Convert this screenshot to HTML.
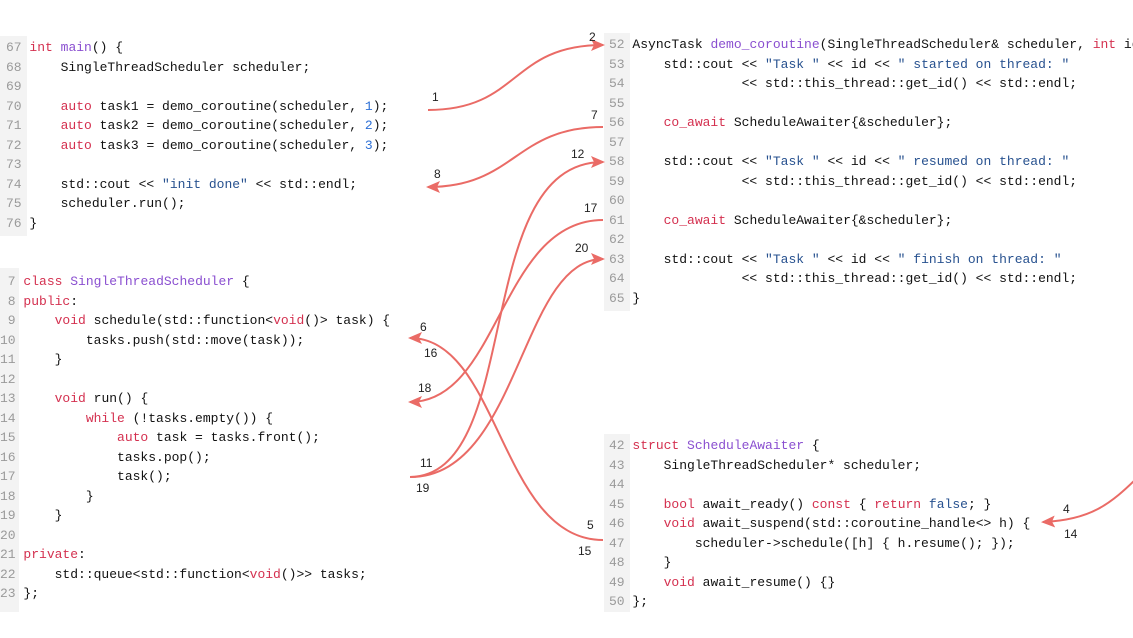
<!DOCTYPE html>
<html><head><meta charset="utf-8"><style>
body{margin:0;width:1133px;height:638px;background:#fff;position:relative;overflow:hidden;font-family:"Liberation Mono",monospace}
.p{position:absolute;background:#fff}
.g{position:absolute;top:0;bottom:0;left:0;background:#f3f3f3}
pre{position:absolute;margin:0;font-family:"Liberation Mono",monospace;font-size:13px;line-height:19.5px;color:#111;white-space:pre}
.n{color:#9a9a9a}
.k{color:#d4304f}
.f{color:#8a4fd0}
.b{color:#2c6fd6}
.s{color:#27518f}
.lbl{position:absolute;font-family:"Liberation Sans",sans-serif;font-size:12px;color:#222}
</style></head><body>
<div class="p" style="left:0;top:36px;width:425px;height:200px"><div class="g" style="width:27px"></div></div>
<div class="p" style="left:0;top:268px;width:408px;height:344px"><div class="g" style="width:19px"></div></div>
<div class="p" style="left:604px;top:33px;width:529px;height:278px"><div class="g" style="width:26px"></div></div>
<div class="p" style="left:604px;top:434px;width:440px;height:178px"><div class="g" style="width:26px"></div></div>

<pre style="left:6px;top:38px"><span class="n">67</span> <span class="k">int</span> <span class="f">main</span>() {
<span class="n">68</span>     SingleThreadScheduler scheduler;
<span class="n">69</span>
<span class="n">70</span>     <span class="k">auto</span> task1 = demo_coroutine(scheduler, <span class="b">1</span>);
<span class="n">71</span>     <span class="k">auto</span> task2 = demo_coroutine(scheduler, <span class="b">2</span>);
<span class="n">72</span>     <span class="k">auto</span> task3 = demo_coroutine(scheduler, <span class="b">3</span>);
<span class="n">73</span>
<span class="n">74</span>     std::cout &lt;&lt; <span class="s">"init done"</span> &lt;&lt; std::endl;
<span class="n">75</span>     scheduler.run();
<span class="n">76</span> }</pre>

<pre style="left:0px;top:272px"><span class="n"> 7</span> <span class="k">class</span> <span class="f">SingleThreadScheduler</span> {
<span class="n"> 8</span> <span class="k">public</span>:
<span class="n"> 9</span>     <span class="k">void</span> schedule(std::function&lt;<span class="k">void</span>()&gt; task) {
<span class="n">10</span>         tasks.push(std::move(task));
<span class="n">11</span>     }
<span class="n">12</span>
<span class="n">13</span>     <span class="k">void</span> run() {
<span class="n">14</span>         <span class="k">while</span> (!tasks.empty()) {
<span class="n">15</span>             <span class="k">auto</span> task = tasks.front();
<span class="n">16</span>             tasks.pop();
<span class="n">17</span>             task();
<span class="n">18</span>         }
<span class="n">19</span>     }
<span class="n">20</span>
<span class="n">21</span> <span class="k">private</span>:
<span class="n">22</span>     std::queue&lt;std::function&lt;<span class="k">void</span>()&gt;&gt; tasks;
<span class="n">23</span> };</pre>

<pre style="left:609px;top:35px"><span class="n">52</span> AsyncTask <span class="f">demo_coroutine</span>(SingleThreadScheduler&amp; scheduler, <span class="k">int</span> id
<span class="n">53</span>     std::cout &lt;&lt; <span class="s">"Task "</span> &lt;&lt; id &lt;&lt; <span class="s">" started on thread: "</span>
<span class="n">54</span>               &lt;&lt; std::this_thread::get_id() &lt;&lt; std::endl;
<span class="n">55</span>
<span class="n">56</span>     <span class="k">co_await</span> ScheduleAwaiter{&amp;scheduler};
<span class="n">57</span>
<span class="n">58</span>     std::cout &lt;&lt; <span class="s">"Task "</span> &lt;&lt; id &lt;&lt; <span class="s">" resumed on thread: "</span>
<span class="n">59</span>               &lt;&lt; std::this_thread::get_id() &lt;&lt; std::endl;
<span class="n">60</span>
<span class="n">61</span>     <span class="k">co_await</span> ScheduleAwaiter{&amp;scheduler};
<span class="n">62</span>
<span class="n">63</span>     std::cout &lt;&lt; <span class="s">"Task "</span> &lt;&lt; id &lt;&lt; <span class="s">" finish on thread: "</span>
<span class="n">64</span>               &lt;&lt; std::this_thread::get_id() &lt;&lt; std::endl;
<span class="n">65</span> }</pre>

<pre style="left:609px;top:436px"><span class="n">42</span> <span class="k">struct</span> <span class="f">ScheduleAwaiter</span> {
<span class="n">43</span>     SingleThreadScheduler* scheduler;
<span class="n">44</span>
<span class="n">45</span>     <span class="k">bool</span> await_ready() <span class="k">const</span> { <span class="k">return</span> <span class="s">false</span>; }
<span class="n">46</span>     <span class="k">void</span> await_suspend(std::coroutine_handle&lt;&gt; h) {
<span class="n">47</span>         scheduler-&gt;schedule([h] { h.resume(); });
<span class="n">48</span>     }
<span class="n">49</span>     <span class="k">void</span> await_resume() {}
<span class="n">50</span> };</pre>

<svg width="1133" height="638" style="position:absolute;left:0;top:0" fill="none" stroke="#ea6b66" stroke-width="2">
<defs><marker id="a" markerWidth="14" markerHeight="12" refX="12" refY="6" orient="auto" markerUnits="userSpaceOnUse"><path d="M0,0 L14,6 L0,12 L3,6 z" fill="#ea6b66" stroke="none"/></marker></defs>
<path d="M428,110 C520,110 510,45 603,45" marker-end="url(#a)"/>
<path d="M603,127 C515,127 515,187 428,187" marker-end="url(#a)"/>
<path d="M410,477 C525,475 470,162 603,162" marker-end="url(#a)"/>
<path d="M603,220 C500,220 500,402 410,402" marker-end="url(#a)"/>
<path d="M410,477 C520,477 520,259 603,259" marker-end="url(#a)"/>
<path d="M603,540 C500,540 500,338 410,338" marker-end="url(#a)"/>
<path d="M1140,475 C1110,505 1090,520 1043,522" marker-end="url(#a)"/>
</svg>
<div class="lbl" style="left:432px;top:90px">1</div>
<div class="lbl" style="left:589px;top:30px">2</div>
<div class="lbl" style="left:591px;top:108px">7</div>
<div class="lbl" style="left:434px;top:167px">8</div>
<div class="lbl" style="left:571px;top:147px">12</div>
<div class="lbl" style="left:584px;top:201px">17</div>
<div class="lbl" style="left:575px;top:241px">20</div>
<div class="lbl" style="left:420px;top:320px">6</div>
<div class="lbl" style="left:424px;top:346px">16</div>
<div class="lbl" style="left:418px;top:381px">18</div>
<div class="lbl" style="left:420px;top:456px">11</div>
<div class="lbl" style="left:416px;top:481px">19</div>
<div class="lbl" style="left:587px;top:518px">5</div>
<div class="lbl" style="left:578px;top:544px">15</div>
<div class="lbl" style="left:1063px;top:502px">4</div>
<div class="lbl" style="left:1064px;top:527px">14</div>
</body></html>
